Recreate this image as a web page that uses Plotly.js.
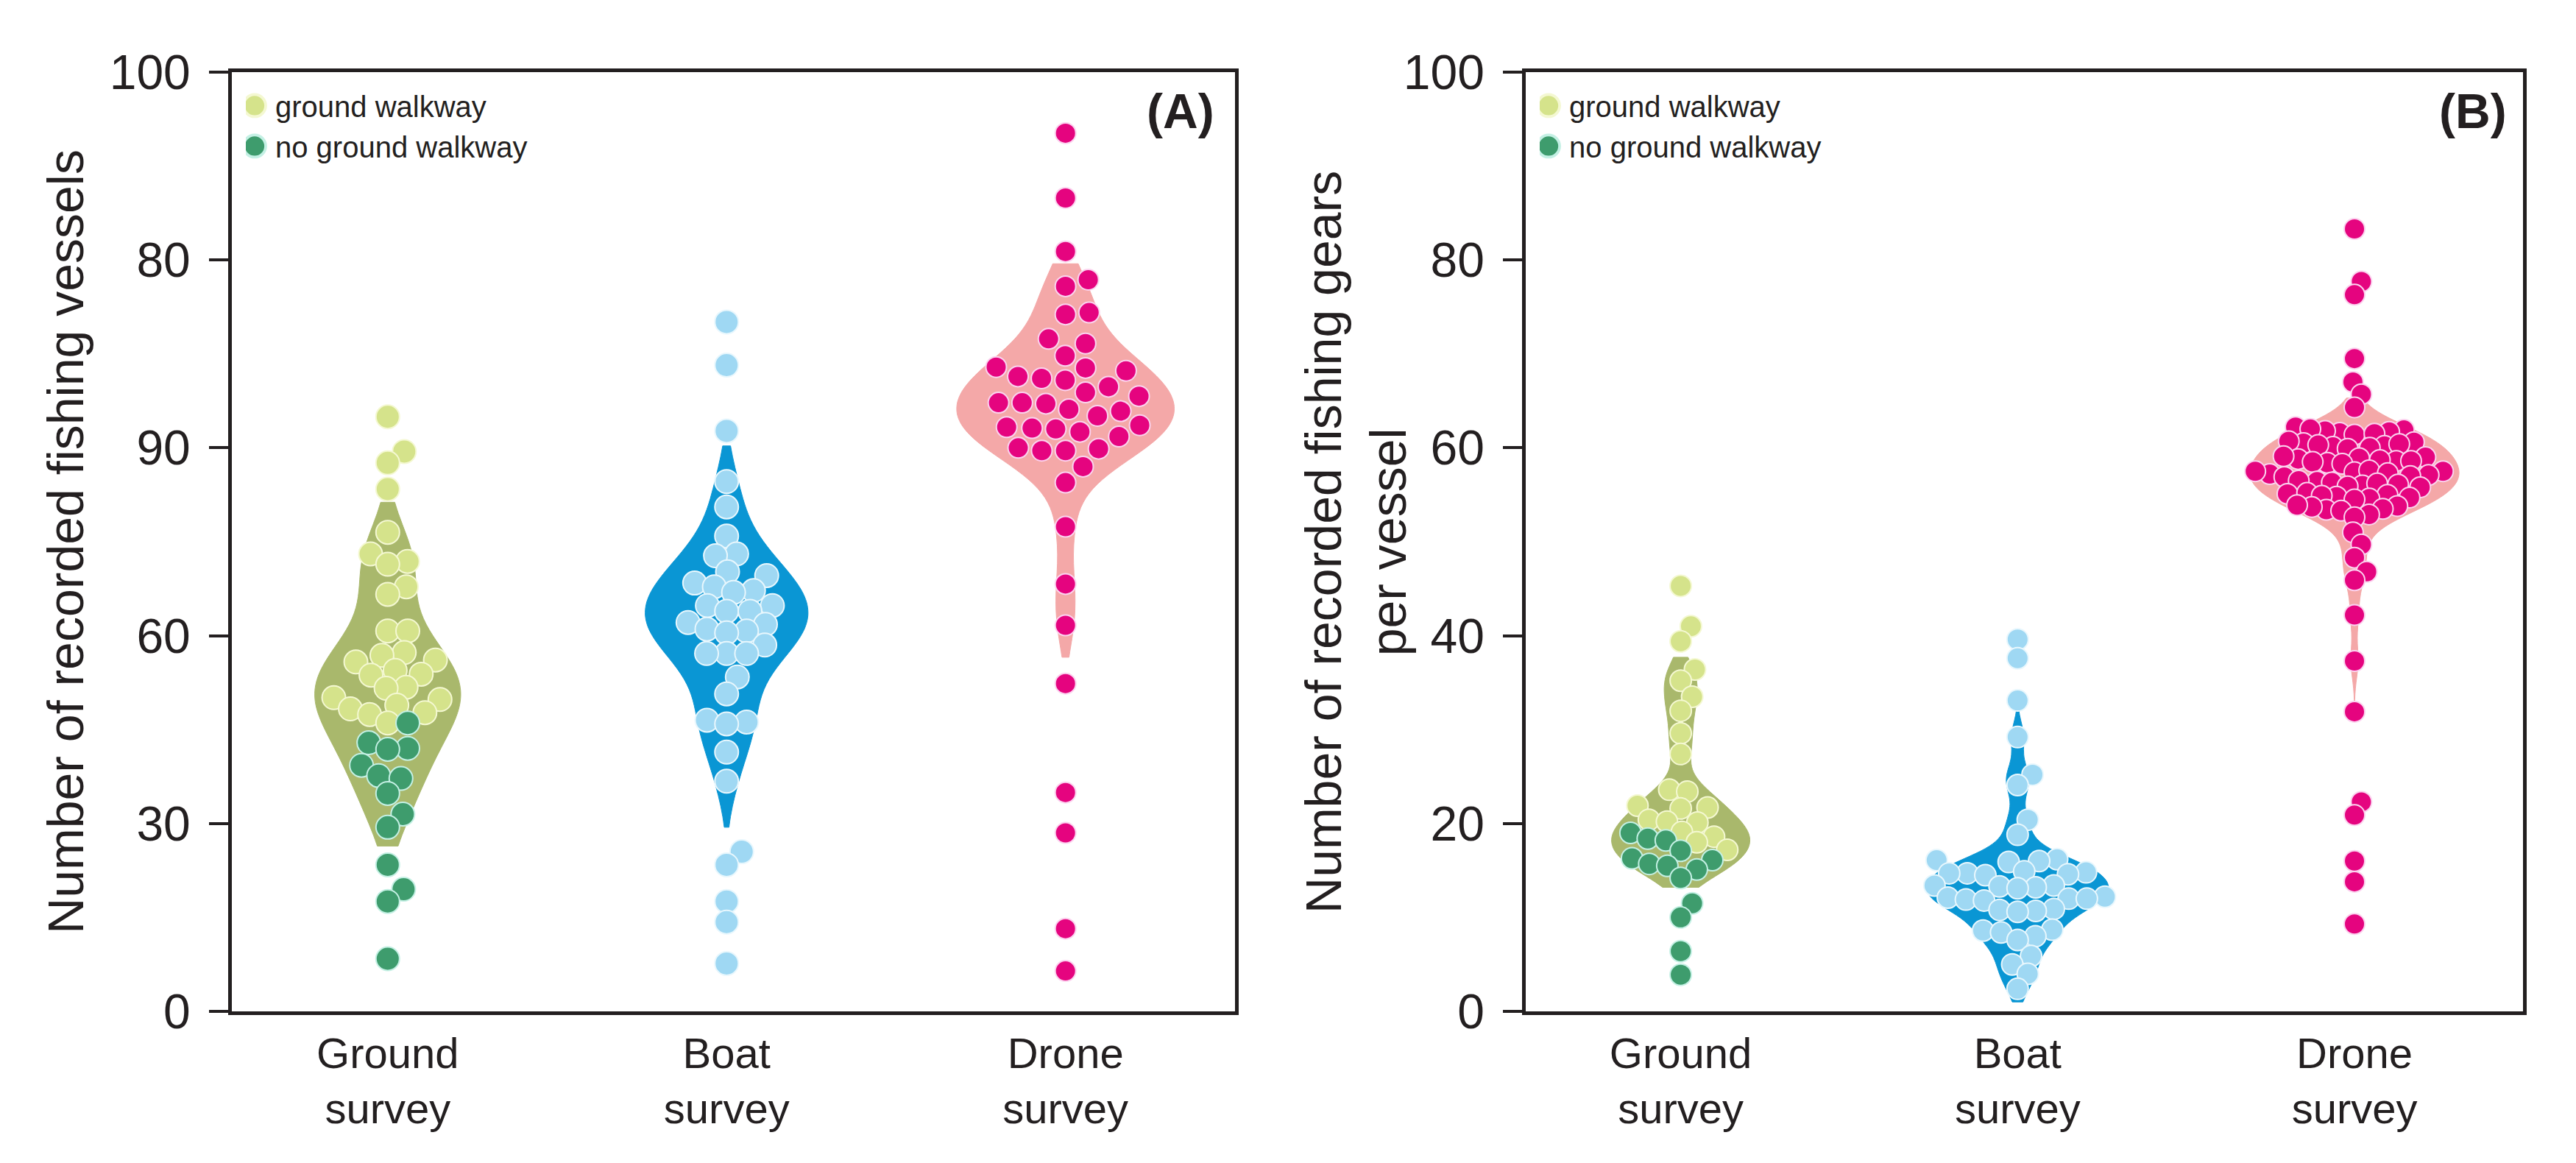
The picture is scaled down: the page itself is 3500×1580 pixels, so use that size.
<!DOCTYPE html>
<html>
<head>
<meta charset="utf-8">
<script src="https://cdn.plot.ly/plotly-3.0.1.min.js"></script>
<style>
  body{margin:0;background:#fff;}
  #graph{width:3500px;height:1580px;}
</style>
</head>
<body>
<div id="graph"></div>
<script>
//Chart values (y in axis position units 0-100)
let categories = ["Ground<br>survey", "Boat<br>survey", "Drone<br>survey"];
let yTickVals = [0, 20, 40, 60, 80, 100];
let yTickTextA = ["0", "30", "60", "90", "80", "100"];
let yTickTextB = ["0", "20", "40", "60", "80", "100"];
let legendNames = ["ground walkway", "no ground walkway"];
let titleA = "Number of recorded fishing vessels";
let titleB = "Number of recorded fishing gears<br>per vessel";

let groundWalkwayA = [63.3, 59.6, 58.4, 55.6, 51.0, 48.7, 47.9, 47.6, 45.2, 44.4, 40.5, 40.5, 38.2, 37.9, 37.4, 37.2, 36.3, 35.9, 35.8, 34.5, 34.4, 33.4, 33.2, 32.6, 32.2, 31.8, 31.6, 30.7];
let groundNoWalkwayA = [30.7, 28.6, 28.0, 27.9, 26.2, 25.1, 24.8, 23.2, 21.0, 19.6, 15.6, 13.0, 11.7, 5.6];
let boatA = [73.4, 68.8, 61.8, 56.4, 53.7, 50.6, 48.7, 48.5, 46.8, 46.4, 45.6, 45.2, 44.8, 44.6, 43.2, 43.2, 42.6, 42.6, 41.4, 41.2, 40.7, 40.5, 40.3, 39.0, 38.1, 38.1, 38.1, 35.6, 33.8, 31.0, 30.8, 30.6, 27.6, 24.5, 17.0, 15.6, 11.7, 9.5, 5.1];
let droneA = [93.5, 86.6, 80.9, 77.9, 77.2, 74.4, 74.2, 71.6, 71.1, 69.8, 68.6, 68.5, 68.2, 67.6, 67.4, 67.2, 66.5, 65.9, 65.5, 64.8, 64.8, 64.7, 64.1, 63.9, 63.4, 62.4, 62.2, 62.1, 62.0, 61.7, 61.2, 60.0, 59.9, 59.7, 59.7, 58.0, 56.3, 51.6, 45.5, 41.1, 34.9, 23.3, 19.0, 8.8, 4.3];

let groundWalkwayB = [45.3, 41.0, 39.4, 36.4, 35.2, 33.5, 32.0, 29.6, 27.4, 23.6, 23.4, 21.9, 21.7, 21.6, 20.4, 20.2, 20.1, 19.1, 18.6, 18.0, 17.2];
let groundNoWalkwayB = [19.0, 18.4, 18.2, 17.1, 16.3, 16.1, 15.7, 15.5, 15.1, 14.2, 11.5, 10.0, 6.4, 3.9];
let boatB = [39.6, 37.6, 33.1, 29.2, 25.2, 24.1, 20.4, 18.8, 16.2, 16.1, 16.0, 15.9, 14.9, 14.8, 14.7, 14.7, 14.6, 14.5, 13.4, 13.4, 13.3, 13.2, 13.1, 12.2, 12.1, 12.0, 12.0, 11.9, 11.8, 10.9, 10.8, 10.7, 10.6, 8.7, 8.6, 8.4, 8.0, 7.6, 5.9, 5.0, 4.0, 2.4];
let droneB = [83.3, 77.7, 76.3, 69.5, 67.0, 65.7, 64.3,
    62.2, 61.9, 61.6, 61.8, 61.4, 61.7, 62.0, 61.5,
    60.6, 60.2, 60.4, 60.0, 60.5, 60.1, 60.3, 59.9, 60.7,
    59.0, 58.6, 58.9, 58.4, 58.8, 58.5, 59.1, 58.7, 58.3, 58.6,
    57.5, 57.1, 57.4, 57.0, 57.6, 57.2, 57.3, 56.9, 57.5,
    56.4, 56.0, 56.3, 55.9, 56.5, 56.1, 56.2, 55.8,
    55.1, 54.7, 55.0, 54.6, 55.2, 54.8, 54.9, 54.5,
    53.8, 53.4, 53.7, 53.3, 53.9, 53.5,
    52.9, 52.6,
    51.0, 49.7, 48.3, 46.8, 45.9, 42.2, 37.3, 31.9,
    22.3, 20.9, 16.0, 13.8, 9.3];

//Layout constants
let W = 3500, H = 1580;
let domA = [0.09, 0.4794], domB = [0.5923, 0.9794], domY = [0.1304, 0.938];
let xRange = [-0.46, 2.5];
let font = "Liberation Sans, Arial, sans-serif";
let ink = "#231f20";

let colors = {
    groundViolin: "#a9b86c", light: "#d5e38b", lightEdge: "#f4f8d2",
    dark: "#3e9c6d", darkEdge: "#c4f0e4",
    boatViolin: "#0a96d4", boat: "#9fd8f3", boatEdge: "#e8f7fd",
    droneViolin: "#f4a8a8", drone: "#e5047f", droneEdge: "#fbd3ef"
};

//violin look per panel/group: [span low, span high, bandwidth, width]
//the density uses the values that fall inside the span
let violinA = [[17.6, 54.2, 3.6, 0.43], [19.6, 60.2, 3.4, 0.48], [37.7, 79.6, 3.0, 0.64]];
let violinB = [[13.2, 37.7, 1.8, 0.41], [1.0, 32.6, 1.6, 0.54], [32.6, 65.3, 1.8, 0.62]];
//dot size and swarm spacing (fraction of size) per group
let dotsA = [[32, 0.85], [32, 0.85], [28, 1.15]];
let dotsB = [[29, 0.85], [29, 0.85], [28, 0.72]];

//simple beeswarm: offsets in pixels turned into x units
let swarm = (values, center, gap, pxPerX, pxPerY)=>{
    let order = values.map((v, i)=>i).sort((a, b)=>values[a] - values[b]);
    let placed = [];
    let xs = new Array(values.length);

    for(let i of order){
        let py = values[i] * pxPerY;
        let cands = [0];
        for(let p of placed){
            let dy = py - p.y;
            if(Math.abs(dy) < gap){
                let dx = Math.sqrt(gap * gap - dy * dy);
                cands.push(p.x + dx, p.x - dx);
            }
        }
        cands.sort((a, b)=>Math.abs(a) - Math.abs(b));
        let best = 0;
        for(let c of cands){
            let ok = placed.every(p=>(p.x - c) * (p.x - c) + (p.y - py) * (p.y - py) >= gap * gap - 0.01);
            if(ok){
                best = c;
                break;
            }
        }
        placed.push({x: best, y: py});
        xs[i] = center + best / pxPerX;
    }
    return xs;
}

let traces = [];

let addPanel = (dom, xa, ya, groundLight, groundDark, boat, drone, violins, legendId, dots)=>{
    let pxPerX = (dom[1] - dom[0]) * W / (xRange[1] - xRange[0]);
    let pxPerY = (domY[1] - domY[0]) * H / 100;
    let groundAll = groundLight.concat(groundDark);
    let groups = [groundAll, boat, drone];
    let fills = [colors.groundViolin, colors.boatViolin, colors.droneViolin];

    groups.forEach((vals, i)=>{
        let v = violins[i];
        traces.push({
            type: "violin", x0: i, y: vals.filter(d=>d >= v[0] && d <= v[1]), xaxis: xa, yaxis: ya,
            points: false, spanmode: "manual", span: [v[0], v[1]],
            bandwidth: v[2], width: v[3], scalemode: "width",
            fillcolor: fills[i], line: {color: fills[i], width: 1},
            box: {visible: false}, meanline: {visible: false},
            showlegend: false, hoverinfo: "skip"
        });
    });

    let gx = swarm(groundAll, 0, dots[0][0] * dots[0][1], pxPerX, pxPerY);
    let n = groundLight.length;

    traces.push({
        type: "scatter", mode: "markers", name: legendNames[0], legend: legendId,
        x: gx.slice(0, n), y: groundLight, xaxis: xa, yaxis: ya,
        marker: {size: dots[0][0], color: colors.light, line: {color: colors.lightEdge, width: 2}}
    });
    traces.push({
        type: "scatter", mode: "markers", name: legendNames[1], legend: legendId,
        x: gx.slice(n), y: groundDark, xaxis: xa, yaxis: ya,
        marker: {size: dots[0][0], color: colors.dark, line: {color: colors.darkEdge, width: 2}}
    });
    traces.push({
        type: "scatter", mode: "markers", showlegend: false,
        x: swarm(boat, 1, dots[1][0] * dots[1][1], pxPerX, pxPerY), y: boat, xaxis: xa, yaxis: ya,
        marker: {size: dots[1][0], color: colors.boat, line: {color: colors.boatEdge, width: 2}}
    });
    traces.push({
        type: "scatter", mode: "markers", showlegend: false,
        x: swarm(drone, 2, dots[2][0] * dots[2][1], pxPerX, pxPerY), y: drone, xaxis: xa, yaxis: ya,
        marker: {size: dots[2][0], color: colors.drone, line: {color: colors.droneEdge, width: 2}}
    });
}

addPanel(domA, "x", "y", groundWalkwayA, groundNoWalkwayA, boatA, droneA, violinA, "legend", dotsA);
addPanel(domB, "x2", "y2", groundWalkwayB, groundNoWalkwayB, boatB, droneB, violinB, "legend2", dotsB);

let xAxis = (dom, anchor)=>({
    domain: dom, anchor: anchor, range: xRange,
    tickmode: "array", tickvals: [0, 1, 2], ticktext: categories,
    ticks: "", ticklabelstandoff: 2,
    tickfont: {family: font, size: 58, color: ink},
    showline: true, mirror: true, linewidth: 5, linecolor: ink,
    showgrid: false, zeroline: false
});

//second axis only for the ticks between the groups
let tickAxis = (over, anchor)=>({
    overlaying: over, anchor: anchor, range: xRange,
    tickmode: "array", tickvals: [0.42, 1.5], showticklabels: false,
    ticks: "outside", ticklen: 31, tickwidth: 4, tickcolor: ink,
    showline: false, showgrid: false, zeroline: false
});

let yAxis = (anchor, ticktext)=>({
    domain: domY, anchor: anchor, range: [0, 100],
    tickmode: "array", tickvals: yTickVals, ticktext: ticktext,
    ticks: "outside", ticklen: 26, tickwidth: 4, tickcolor: ink, ticklabelstandoff: 12,
    tickfont: {family: font, size: 66, color: ink},
    showline: true, mirror: true, linewidth: 5, linecolor: ink,
    showgrid: false, zeroline: false
});

let legendAt = (dom)=>({
    x: dom[0] + 19 / W, y: domY[1] - 13 / H, xanchor: "left", yanchor: "top",
    bgcolor: "rgba(0,0,0,0)", font: {family: font, size: 40, color: ink},
    tracegroupgap: 0, itemwidth: 30
});

let yA = yAxis("x", yTickTextA);
yA.title = {text: titleA, standoff: 14, font: {family: font, size: 68, color: ink}};

let midY = (domY[0] + domY[1]) / 2;

let layout = {
    width: W, height: H,
    margin: {l: 0, r: 0, t: 0, b: 0},
    paper_bgcolor: "#fff", plot_bgcolor: "#fff",
    showlegend: true,
    xaxis: xAxis(domA, "y"),
    xaxis2: xAxis(domB, "y2"),
    xaxis3: tickAxis("x", "y"),
    xaxis4: tickAxis("x2", "y2"),
    yaxis: yA,
    yaxis2: yAxis("x2", yTickTextB),
    legend: legendAt(domA),
    legend2: legendAt(domB),
    annotations: [
        {xref: "paper", yref: "paper", x: 1842 / W, y: midY, xanchor: "center", yanchor: "middle",
         textangle: -90, align: "center", text: titleB, showarrow: false,
         font: {family: font, size: 68, color: ink}},
        {xref: "paper", yref: "paper", x: domA[1] - 26 / W, y: 1 - 151 / H, xanchor: "right", yanchor: "middle",
         text: "<b>(A)</b>", showarrow: false, font: {family: font, size: 66, color: ink}},
        {xref: "paper", yref: "paper", x: domB[1] - 20 / W, y: 1 - 151 / H, xanchor: "right", yanchor: "middle",
         text: "<b>(B)</b>", showarrow: false, font: {family: font, size: 66, color: ink}}
    ]
};

Plotly.newPlot("graph", traces, layout, {staticPlot: true, displayModeBar: false}).then(()=>{
    //legend symbols are capped at 16px by plotly, enlarge them to the dot size
    document.querySelectorAll("#graph .infolayer path.scatterpts").forEach(p=>{
        p.setAttribute("transform", "translate(12,0) scale(1.875)");
    });
});
</script>
</body>
</html>
